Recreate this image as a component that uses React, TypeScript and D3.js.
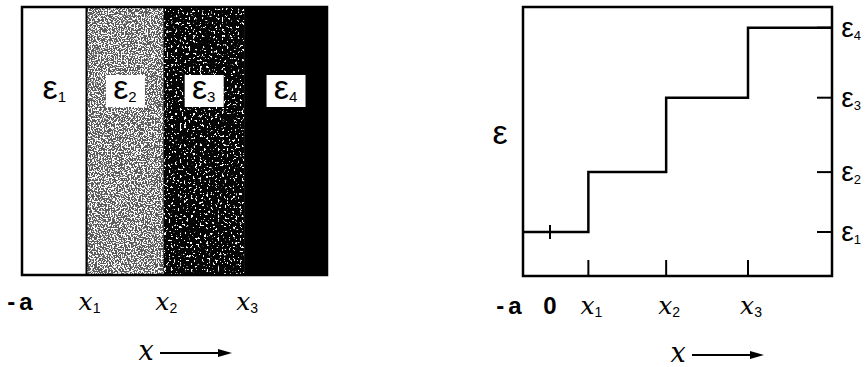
import React from "react";
import * as d3 from "d3";

// Layer boundaries along x (units of a), and the permittivity of each layer
const boundaryLabels = ["-a", "x", "x", "x"];
const boundarySubs = ["", "1", "2", "3"];
const boundaries = [-1, 1.42, 4.3, 7.33];
const xEnd = 10.44;
const originTick = 0;
const layerSubs = ["1", "2", "3", "4"];
const permittivity = [1, 2.36, 4.05, 5.64];
const epsTop = 6.11;

const W = 867;
const H = 367;

const xL = d3.scaleLinear().domain([-1, xEnd]).range([22, 327]);
const xR = d3.scaleLinear().domain([-1, xEnd]).range([523, 832]);
const yR = d3.scaleLinear().domain([0, epsTop]).range([276, 7]);
const panelTop = 7;
const panelBottom = 275;

const bandBase = ["#ffffff", "#5a5a5a", "#050505", "#000000"];
const speckThreshold = [null, 0.5, 0.63, null];
const speckFreq = [0, 0.7, 0.45, 0];

const sans = "'Liberation Sans', Arial, sans-serif";
const serif = "'DejaVu Serif', serif";

function Eps({ x, y, sub, size = 34, subSize = 15 }: { x: number; y: number; sub?: string; size?: number; subSize?: number }) {
  return (
    <text x={x} y={y} fontFamily={sans} fontSize={size} textAnchor="middle" fill="#000">
      ε
      {sub ? (
        <tspan fontSize={subSize} dy={3}>
          {sub}
        </tspan>
      ) : null}
    </text>
  );
}

function XLabel({ x, y, name, sub }: { x: number; y: number; name: string; sub: string }) {
  if (name === "-a") {
    return (
      <text x={x} y={y} fontFamily={sans} fontWeight="bold" fontSize={24} textAnchor="middle" letterSpacing={4}>
        -a
      </text>
    );
  }
  return (
    <text x={x} y={y} textAnchor="middle">
      <tspan fontFamily={serif} fontStyle="italic" fontSize={25}>
        {name}
      </tspan>
      <tspan fontFamily={sans} fontSize={14} dy={3}>
        {sub}
      </tspan>
    </text>
  );
}

function AxisTitle({ x, y }: { x: number; y: number }) {
  return (
    <g>
      <text x={x} y={y} fontFamily={serif} fontStyle="italic" fontSize={27} textAnchor="middle">
        x
      </text>
      <line x1={x + 14} x2={x + 78} y1={y - 7} y2={y - 7} stroke="#000" strokeWidth={1.8} />
      <path d={`M${x + 86},${y - 7} L${x + 72},${y - 11} L${x + 72},${y - 3} Z`} fill="#000" />
    </g>
  );
}

export default function App() {
  const bandEdges = [...boundaries, xEnd];
  const steps: [number, number][] = [
    ...boundaries.map((b, i) => [b, permittivity[i]] as [number, number]),
    [xEnd, permittivity[permittivity.length - 1]],
  ];
  const stepLine = d3
    .line<[number, number]>()
    .x((d) => xR(d[0]))
    .y((d) => yR(d[1]))
    .curve(d3.curveStepAfter);

  return (
    <svg width={W} height={H} style={{ position: "absolute", left: 0, top: 0 }} fontFamily={sans}>
      <defs>
        {speckThreshold.map((t, i) =>
          t == null ? null : (
            <filter key={i} id={`specks-${i}`} x="0" y="0" width="100%" height="100%">
              <feTurbulence type="fractalNoise" baseFrequency={speckFreq[i]} numOctaves={2} seed={i * 7 + 3} result="n" />
              <feColorMatrix
                in="n"
                type="matrix"
                values={`0 0 0 0 1  0 0 0 0 1  0 0 0 0 1  20 0 0 0 ${-20 * t}`}
                result="m"
              />
              <feComposite in="m" in2="SourceGraphic" operator="in" />
            </filter>
          )
        )}
      </defs>

      {/* Layered slab */}
      <g>
        {bandBase.map((fill, i) => {
          const x0 = xL(bandEdges[i]);
          const x1 = xL(bandEdges[i + 1]);
          return (
            <g key={i}>
              <rect x={x0} y={panelTop} width={x1 - x0} height={panelBottom - panelTop} fill={fill} />
              {speckThreshold[i] != null ? (
                <rect
                  x={x0}
                  y={panelTop}
                  width={x1 - x0}
                  height={panelBottom - panelTop}
                  fill="#fff"
                  filter={`url(#specks-${i})`}
                />
              ) : null}
            </g>
          );
        })}
        <line x1={xL(boundaries[1])} x2={xL(boundaries[1])} y1={panelTop} y2={panelBottom} stroke="#000" strokeWidth={2} />
        <rect
          x={xL(-1)}
          y={panelTop}
          width={xL(xEnd) - xL(-1)}
          height={panelBottom - panelTop}
          fill="none"
          stroke="#000"
          strokeWidth={2.5}
        />
        {layerSubs.map((s, i) => {
          const cx = (xL(bandEdges[i]) + xL(bandEdges[i + 1])) / 2;
          return (
            <g key={s}>
              {i > 0 ? <rect x={cx - 19} y={75} width={39} height={32} fill="#fff" /> : null}
              <Eps x={cx} y={99} sub={s} />
            </g>
          );
        })}
        {boundaries.map((b, i) => (
          <XLabel key={i} x={xL(b) + (i === 0 ? 0 : 3)} y={310} name={boundaryLabels[i]} sub={boundarySubs[i]} />
        ))}
        <AxisTitle x={146} y={360} />
      </g>

      {/* Permittivity profile */}
      <g>
        <rect
          x={xR(-1)}
          y={yR(epsTop)}
          width={xR(xEnd) - xR(-1)}
          height={yR(0) - yR(epsTop)}
          fill="none"
          stroke="#000"
          strokeWidth={2.5}
        />
        <path d={stepLine(steps) ?? ""} fill="none" stroke="#000" strokeWidth={2.5} />
        <line
          x1={xR(originTick)}
          x2={xR(originTick)}
          y1={yR(permittivity[0]) - 7}
          y2={yR(permittivity[0]) + 7}
          stroke="#000"
          strokeWidth={2}
        />
        {boundaries.slice(1).map((b) => (
          <line key={b} x1={xR(b)} x2={xR(b)} y1={yR(0)} y2={yR(0) - 16} stroke="#000" strokeWidth={2} />
        ))}
        {permittivity.map((e) => (
          <line key={e} x1={xR(xEnd)} x2={xR(xEnd) - 15} y1={yR(e)} y2={yR(e)} stroke="#000" strokeWidth={2} />
        ))}
        {permittivity.map((e, i) => (
          <Eps key={i} x={851} y={yR(e) + 9} sub={layerSubs[i]} size={28} subSize={13} />
        ))}
        <Eps x={500} y={144} size={34} />
        {boundaries.map((b, i) => (
          <XLabel key={i} x={xR(b) + (i === 0 ? -12 : 3)} y={314} name={boundaryLabels[i]} sub={boundarySubs[i]} />
        ))}
        <text x={xR(originTick)} y={314} fontFamily={sans} fontWeight="bold" fontSize={24} textAnchor="middle">
          0
        </text>
        <AxisTitle x={678} y={362} />
      </g>
    </svg>
  );
}
